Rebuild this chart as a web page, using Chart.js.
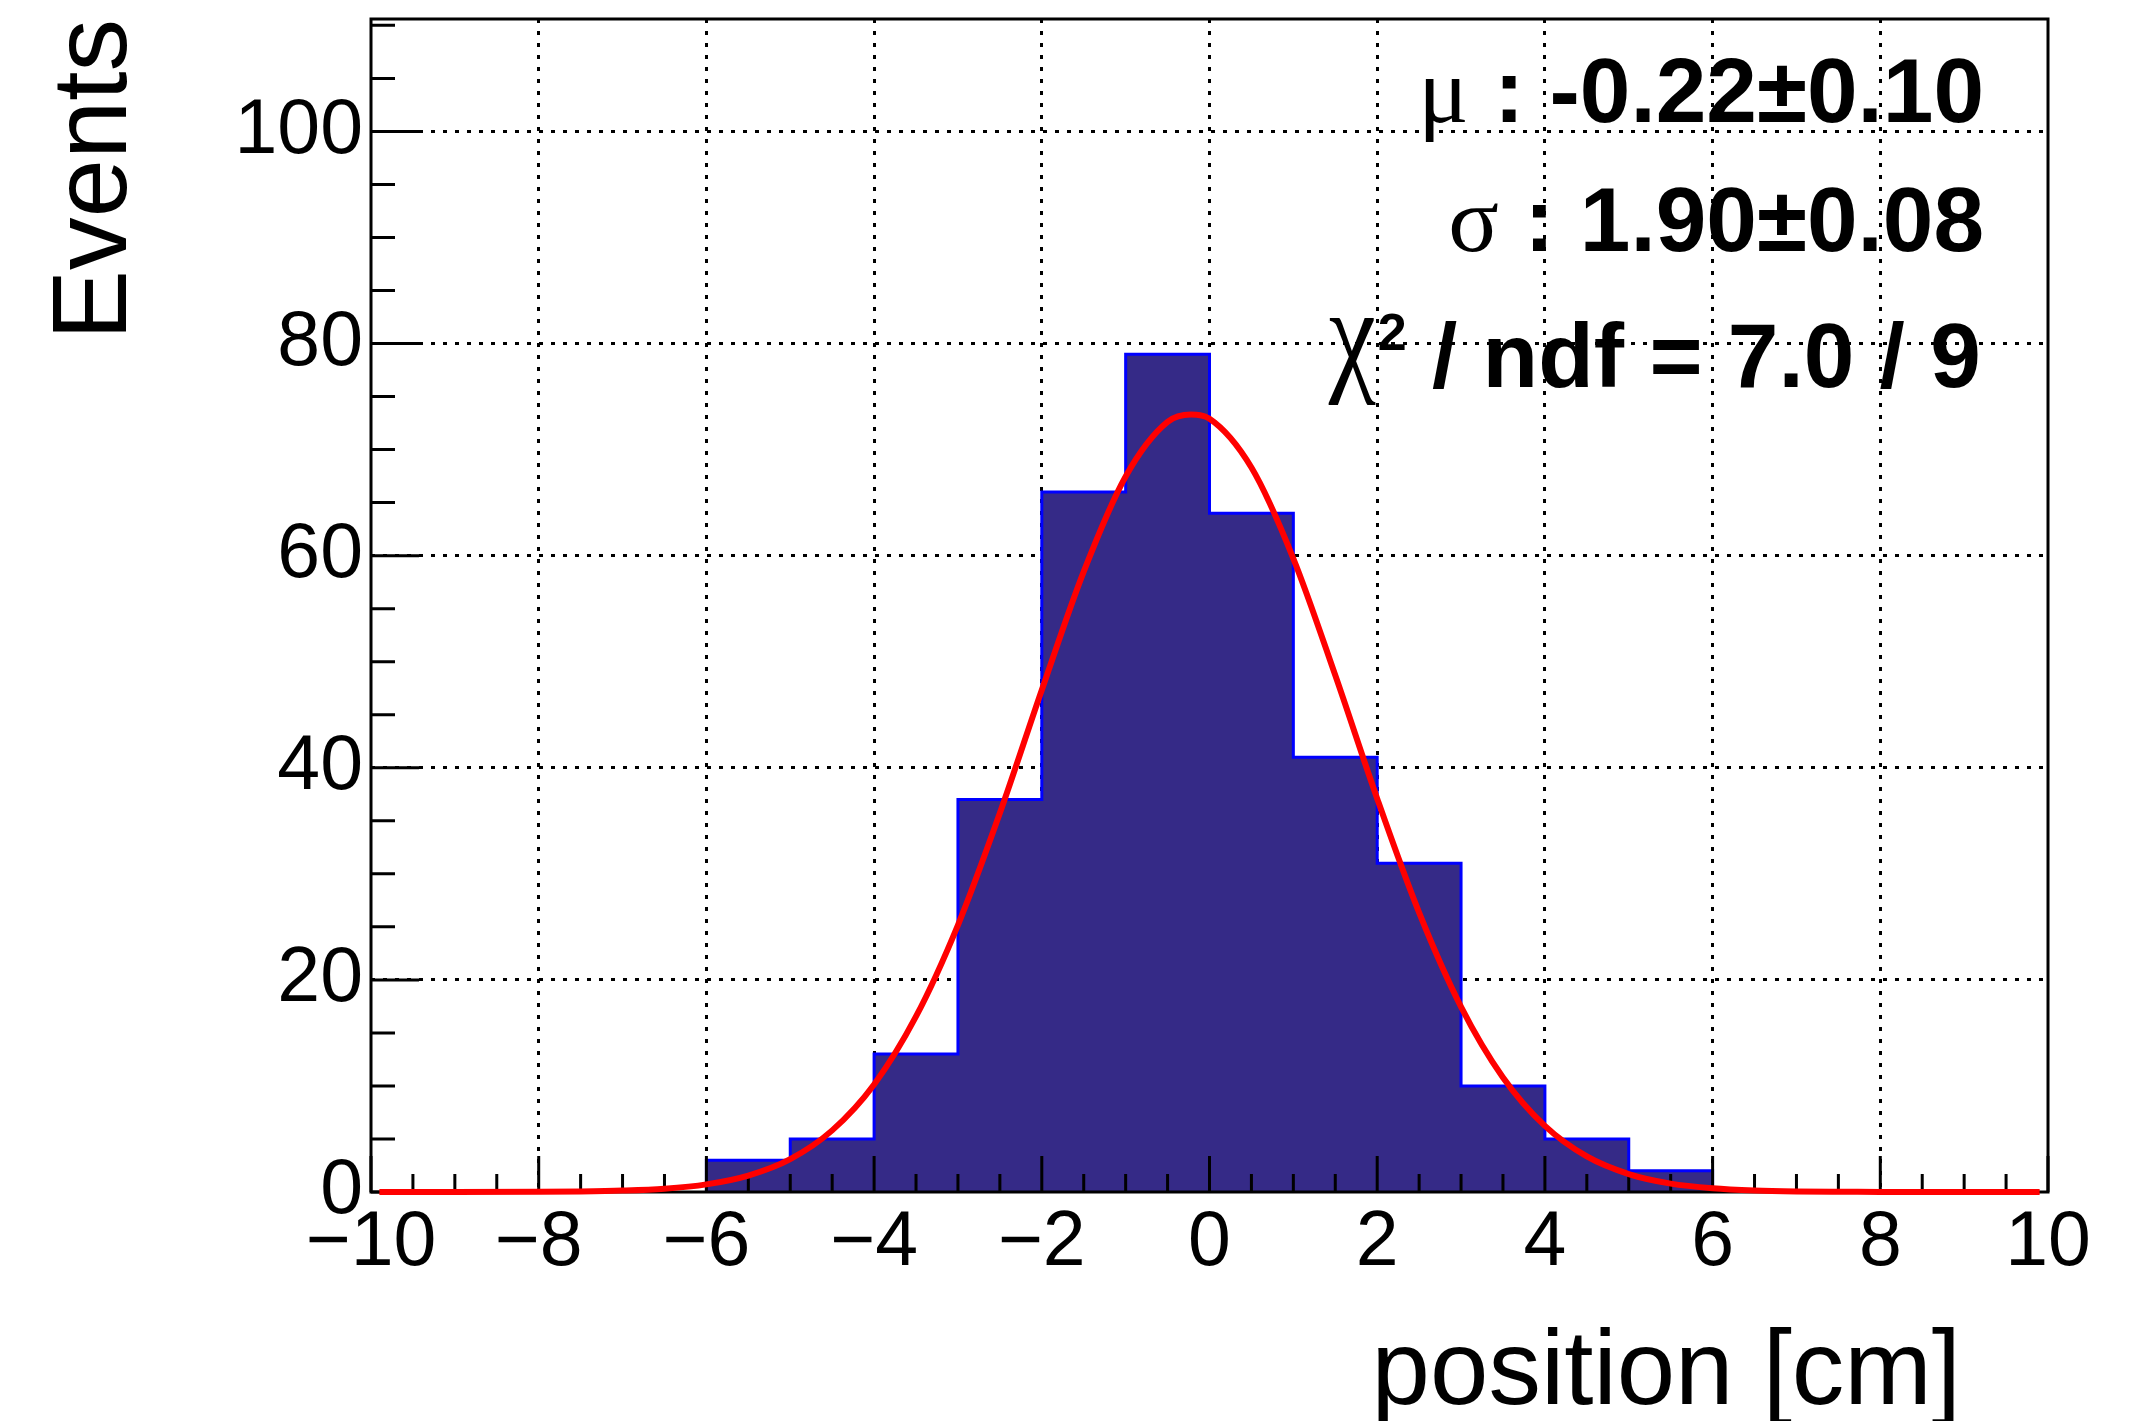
<!DOCTYPE html>
<html>
<head>
<meta charset="utf-8">
<script src="https://cdn.jsdelivr.net/npm/chart.js@4.4.1/dist/chart.umd.min.js"></script>
<style>
  html, body { margin: 0; padding: 0; background: #ffffff; }
  #wrap { width: 2141px; height: 1421px; position: relative; }
  canvas { display: block; }
</style>
</head>
<body>
<div id="wrap"><canvas id="c" width="2141" height="1421"></canvas></div>
<script>
// ---------------- data ----------------
const binEdges  = [-6, -5, -4, -3, -2, -1, 0, 1, 2, 3, 4, 5, 6];
const binCounts = [3, 5, 13, 37, 66, 79, 64, 41, 31, 10, 5, 2];

// fitted gaussian curve
const fitX = [-9.9, -9, -8, -7.5, -7, -6.5, -6, -5.5, -5, -4.5, -4, -3.5, -3, -2.5, -2, -1.5, -1, -0.5, -0.22,
              0, 0.5, 1, 1.5, 2, 2.5, 3, 3.5, 4, 4.5, 5, 5.5, 6, 6.5, 7, 7.5, 8, 9, 9.9];
const fitY = [0.00, 0.00, 0.02, 0.05, 0.13, 0.31, 0.72, 1.55, 3.10, 5.81, 10.14, 16.55, 25.17, 35.73, 47.33, 58.50, 67.47, 72.61, 73.30,
              72.91, 68.31, 59.73, 48.72, 37.09, 26.34, 17.46, 10.80, 6.23, 3.35, 1.69, 0.79, 0.35, 0.14, 0.05, 0.02, 0.01, 0.00, 0.00];

const xTickValues = [-10, -8, -6, -4, -2, 0, 2, 4, 6, 8, 10];
const yTickValues = [0, 20, 40, 60, 80, 100];
const xRange = [-10, 10];
const yRange = [0, 110.6];

const xTitle = 'position [cm]';
const yTitle = 'Events';

// fit statistics box lines: [greek symbol, superscript, rest]
const statSymbols = ['\u03BC', '\u03C3', '\u03C7'];
const statSupers  = ['', '', '2'];
const statTexts   = [' : -0.22\u00B10.10', ' : 1.90\u00B10.08', ' / ndf = 7.0 / 9'];

// ---------------- chart ----------------
const histPoints = [{x: binEdges[0], y: 0}]
  .concat(binCounts.map((c, i) => ({x: binEdges[i], y: c})))
  .concat([{x: binEdges[binEdges.length - 1], y: 0}]);
const fitPoints = fitX.map((v, i) => ({x: v, y: fitY[i]}));

const SANS = '"Liberation Sans", Arial, Helvetica, sans-serif';
const SERIF = '"Liberation Serif", "Times New Roman", serif';

const rootStyle = {
  id: 'rootStyle',
  afterDatasetDraw(chart, args) {
    if (args.index !== 1) return;   // after histogram, before fit curve
    const {ctx, chartArea: a, scales: {x, y}} = chart;
    ctx.save();
    ctx.strokeStyle = '#000';
    ctx.lineWidth = 3;
    ctx.lineCap = 'butt';
    ctx.beginPath();
    for (let k = 0; k <= 40; k++) {
      const v = xRange[0] + k * 0.5;
      const px = x.getPixelForValue(v);
      const len = (k % 4 === 0) ? 36 : 18;
      ctx.moveTo(px, a.bottom);
      ctx.lineTo(px, a.bottom - len);
    }
    for (let v = 0; v <= y.max + 1e-9; v += 5) {
      const py = y.getPixelForValue(v);
      const len = (v % 20 === 0) ? 48 : 24;
      ctx.moveTo(a.left, py);
      ctx.lineTo(a.left + len, py);
    }
    ctx.stroke();
    ctx.strokeRect(a.left, a.top, a.right - a.left, a.bottom - a.top);
    ctx.restore();
  },
  afterDraw(chart) {
    const {ctx} = chart;
    ctx.save();
    ctx.fillStyle = '#000';
    // x axis title
    ctx.font = '105px ' + SANS;
    ctx.textAlign = 'right';
    ctx.textBaseline = 'alphabetic';
    ctx.fillText(xTitle, 1961, 1404);

    // stats lines
    const baselines = [122, 251, 387];
    const rightEdge = 1984;
    const boldFont = 'bold 91px ' + SANS;
    const supFont = 'bold 52px ' + SANS;
    ctx.textAlign = 'left';
    for (let i = 0; i < statTexts.length; i++) {
      const greekFont = (i === 2 ? '118px ' : '94px ') + SERIF;
      ctx.font = boldFont;  const wT = ctx.measureText(statTexts[i]).width;
      ctx.font = supFont;   const wS = statSupers[i] ? ctx.measureText(statSupers[i]).width : 0;
      ctx.font = greekFont; const wG = ctx.measureText(statSymbols[i]).width;
      let xs = rightEdge - wT - wS - wG;
      const b = baselines[i];
      ctx.font = greekFont;
      if (i === 2) {
        ctx.save();
        ctx.translate(xs, b - 10);
        ctx.scale(0.9, 1.1);
        ctx.fillText(statSymbols[i], 0, 0);
        ctx.restore();
        xs += wG * 0.9 + 2;
      } else {
        ctx.fillText(statSymbols[i], xs, b);
        xs += wG;
      }
      if (statSupers[i]) {
        ctx.font = supFont;
        ctx.fillText(statSupers[i], xs, b - 37);
        xs += wS;
      }
      ctx.font = boldFont;
      ctx.fillText(statTexts[i], xs, b);
    }
    ctx.restore();
  }
};

Chart.defaults.font.family = SANS;
Chart.defaults.color = '#000';

new Chart(document.getElementById('c'), {
  type: 'line',
  data: {
    datasets: [
      {
        label: 'fit',
        data: fitPoints,
        borderColor: '#ff0000',
        borderWidth: 6,
        pointRadius: 0,
        fill: false,
        cubicInterpolationMode: 'monotone',
        clip: false
      },
      {
        label: 'histogram',
        data: histPoints,
        stepped: 'before',
        borderColor: '#0000ff',
        borderWidth: 3,
        backgroundColor: '#352a87',
        fill: 'origin',
        pointRadius: 0,
        tension: 0
      }
    ]
  },
  options: {
    responsive: false,
    maintainAspectRatio: false,
    devicePixelRatio: 1,
    animation: false,
    events: [],
    layout: { padding: { top: 19, right: 93, bottom: 0, left: 0 } },
    plugins: { legend: { display: false }, tooltip: { enabled: false }, title: { display: false } },
    scales: {
      x: {
        type: 'linear',
        min: xRange[0], max: xRange[1],
        afterBuildTicks: s => { s.ticks = xTickValues.map(v => ({value: v})); },
        afterFit: s => { s.height = 229; s.paddingLeft = 0; s.paddingRight = 0; },
        ticks: {
          autoSkip: false, maxRotation: 0, padding: 6,
          font: { size: 77, family: SANS },
          color: '#000',
          callback: v => (v < 0 ? '\u2212' + Math.abs(v) : String(v))
        },
        grid: {
          drawTicks: false,
          lineWidth: 3,
          color: c => (c.tick && (c.tick.value === xRange[0] || c.tick.value === xRange[1])) ? 'rgba(0,0,0,0)' : '#000'
        },
        border: { display: false, dash: [4, 8] }
      },
      y: {
        type: 'linear',
        min: yRange[0], max: yRange[1],
        afterBuildTicks: s => { s.ticks = yTickValues.map(v => ({value: v})); },
        afterFit: s => { s.width = 371; s.paddingTop = 0; s.paddingBottom = 0; },
        ticks: {
          padding: 8,
          font: { size: 77, family: SANS },
          color: '#000'
        },
        grid: {
          drawTicks: false,
          lineWidth: 3,
          color: c => (c.tick && c.tick.value === 0) ? 'rgba(0,0,0,0)' : '#000'
        },
        border: { display: false, dash: [4, 8] },
        title: {
          display: true,
          text: yTitle,
          align: 'end',
          color: '#000',
          font: { size: 105, family: SANS, lineHeight: 1 },
          padding: { top: 45, bottom: 0 }
        }
      }
    }
  },
  plugins: [rootStyle]
});
</script>
</body>
</html>
